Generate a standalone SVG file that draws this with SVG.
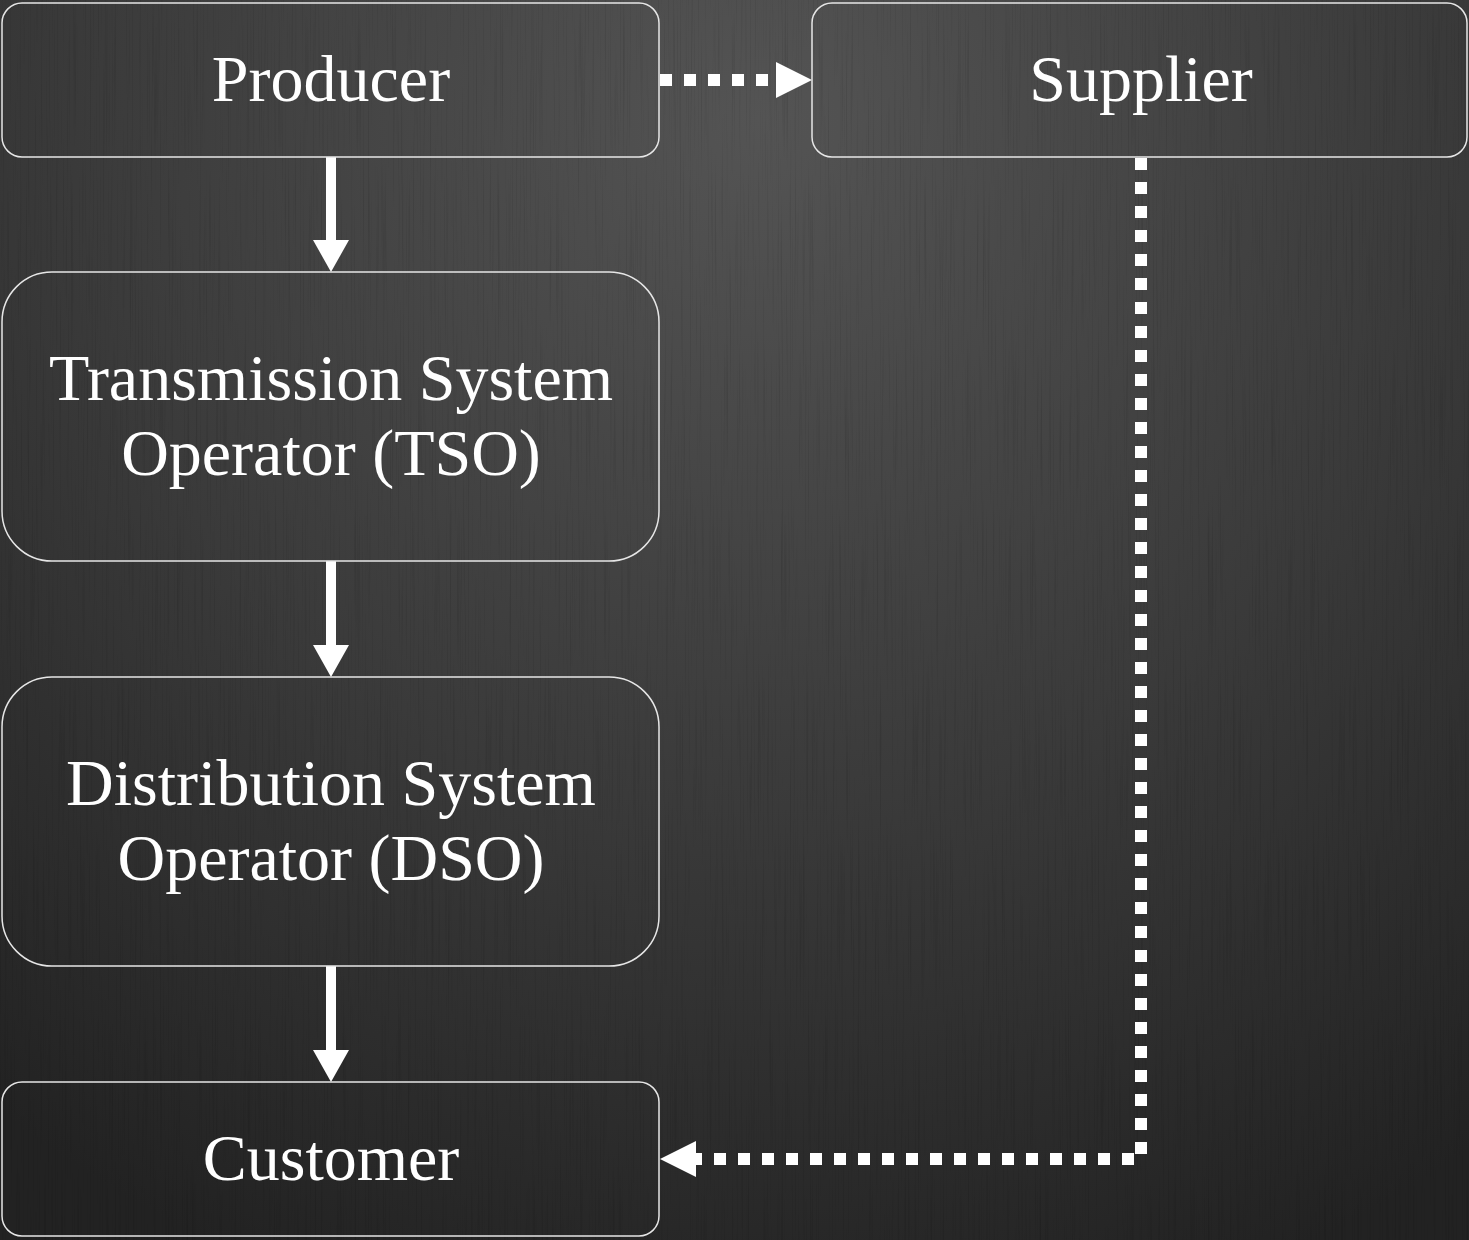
<svg xmlns="http://www.w3.org/2000/svg" width="1469" height="1240" viewBox="0 0 1469 1240">
<defs>
<radialGradient id="bg" cx="760" cy="120" r="1250" gradientUnits="userSpaceOnUse">
<stop offset="0" stop-color="#545454"/>
<stop offset="0.55" stop-color="#3a3a3a"/>
<stop offset="1" stop-color="#222222"/>
</radialGradient>
<filter id="grain" x="0" y="0" width="100%" height="100%">
<feTurbulence type="fractalNoise" baseFrequency="0.6 0.006" numOctaves="2" seed="3" result="n"/>
<feColorMatrix in="n" type="matrix" values="0 0 0 0 0  0 0 0 0 0  0 0 0 0 0  0 0 0 -1.2 0.55" result="a"/>
<feComposite in="a" in2="SourceGraphic" operator="in"/>
</filter>
<marker id="ah" viewBox="0 0 36 36" refX="36" refY="18" markerWidth="36" markerHeight="36" markerUnits="userSpaceOnUse" orient="auto">
<path d="M0,0 L36,18 L0,36 Z" fill="#ffffff"/>
</marker>
</defs>
<style>
.node{fill:none;stroke:#e6e6e6;stroke-width:1.5}
.lbl{fill:#ffffff;font-family:"Liberation Serif","Times New Roman",serif;font-size:66px;text-anchor:middle}
.solid{fill:none;stroke:#ffffff;stroke-width:10}
.dot{fill:none;stroke:#ffffff;stroke-width:12;stroke-dasharray:12 12}
</style>
<rect width="1469" height="1240" fill="url(#bg)"/>
<rect width="1469" height="1240" fill="#000" opacity="0.25" filter="url(#grain)"/>
<g id="connectors">
<path class="solid" d="M331,157 V240" />
<path d="M313,240 L349,240 L331,272 Z" fill="#fff"/>
<path class="solid" d="M331,561 V645" />
<path d="M313,645 L349,645 L331,677 Z" fill="#fff"/>
<path class="solid" d="M331,966 V1050" />
<path d="M313,1050 L349,1050 L331,1082 Z" fill="#fff"/>
<path class="dot" d="M660,80 H776" />
<path d="M776,62 L812,80 L776,98 Z" fill="#fff"/>
<path class="dot" d="M1141,158 V1159 H696" />
<path d="M696,1141 L660,1159 L696,1177 Z" fill="#fff"/>
</g>
<g id="producer">
<rect class="node" x="2" y="3" width="657" height="154" rx="20"/>
<text class="lbl" x="331" y="101">Producer</text>
</g>
<g id="supplier">
<rect class="node" x="812" y="3" width="655" height="154" rx="20"/>
<text class="lbl" x="1141" y="101">Supplier</text>
</g>
<g id="tso">
<rect class="node" x="2" y="272" width="657" height="289" rx="50"/>
<text class="lbl" x="331" y="400">Transmission System</text>
<text class="lbl" x="331" y="475">Operator (TSO)</text>
</g>
<g id="dso">
<rect class="node" x="2" y="677" width="657" height="289" rx="50"/>
<text class="lbl" x="331" y="805">Distribution System</text>
<text class="lbl" x="331" y="880">Operator (DSO)</text>
</g>
<g id="customer">
<rect class="node" x="2" y="1082" width="657" height="154" rx="20"/>
<text class="lbl" x="331" y="1180">Customer</text>
</g>
</svg>
